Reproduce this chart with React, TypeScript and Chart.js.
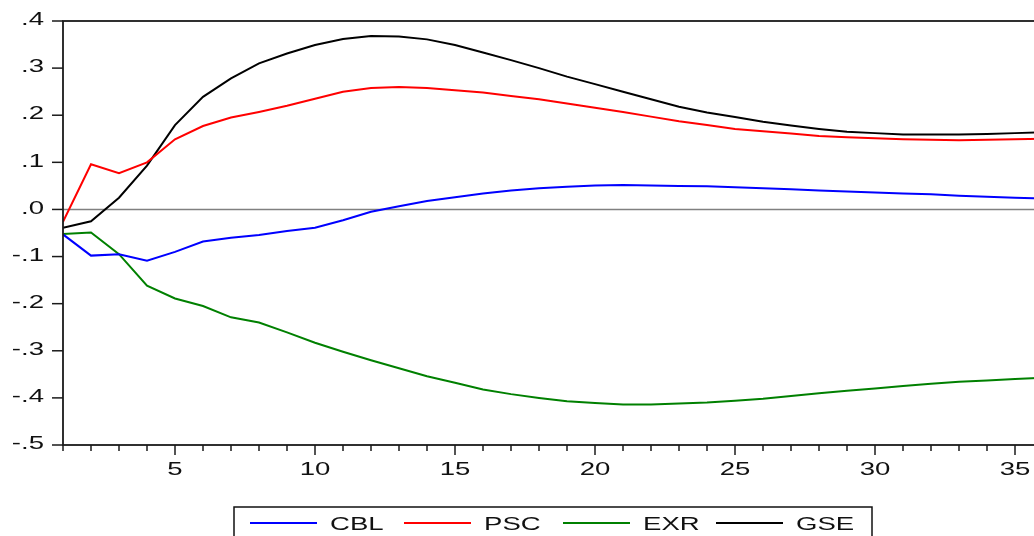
import { useEffect, useRef } from "react";
import { Chart, registerables } from "chart.js";

Chart.register(...registerables);

// Response horizon (periods)
const periods = [
  1, 2, 3, 4, 5, 6, 7, 8, 9, 10, 11, 12, 13, 14, 15, 16, 17, 18,
  19, 20, 21, 22, 23, 24, 25, 26, 27, 28, 29, 30, 31, 32, 33, 34, 35, 36,
];

const cbl = [
  -0.053, -0.098, -0.095, -0.109, -0.09, -0.068, -0.06, -0.054, -0.046, -0.039,
  -0.023, -0.005, 0.007, 0.018, 0.026, 0.034, 0.04, 0.045, 0.048, 0.051,
  0.052, 0.051, 0.05, 0.049, 0.047, 0.045, 0.043, 0.04, 0.038, 0.036,
  0.034, 0.032, 0.029, 0.027, 0.025, 0.023,
];

const psc = [
  -0.026, 0.096, 0.077, 0.1, 0.149, 0.177, 0.195, 0.207, 0.22, 0.235,
  0.25, 0.258, 0.26, 0.258, 0.253, 0.248, 0.241, 0.234, 0.225, 0.216,
  0.207, 0.197, 0.187, 0.179, 0.171, 0.166, 0.161, 0.156, 0.153, 0.151,
  0.149, 0.148, 0.147, 0.148, 0.149, 0.15,
];

const exr = [
  -0.052, -0.049, -0.095, -0.162, -0.189, -0.205, -0.229, -0.24, -0.261, -0.283,
  -0.302, -0.32, -0.337, -0.354, -0.368, -0.382, -0.392, -0.4, -0.407, -0.411,
  -0.414, -0.414, -0.412, -0.41, -0.406, -0.402, -0.396, -0.39, -0.385, -0.38,
  -0.375, -0.37, -0.366, -0.363, -0.36, -0.357,
];

const gse = [
  -0.039, -0.025, 0.025, 0.093, 0.179, 0.239, 0.278, 0.31, 0.331, 0.349,
  0.362, 0.368, 0.367, 0.361, 0.349, 0.333, 0.317, 0.3, 0.282, 0.266,
  0.25, 0.234, 0.218, 0.206, 0.196, 0.186, 0.178, 0.171, 0.165, 0.162,
  0.159, 0.159, 0.159, 0.16, 0.162, 0.164,
];

const seriesNames = ["CBL", "PSC", "EXR", "GSE"];
const seriesColors = ["#0000ff", "#ff0000", "#008000", "#000000"];

const yTickValues = [0.4, 0.3, 0.2, 0.1, 0, -0.1, -0.2, -0.3, -0.4, -0.5];
const yTickLabels = [".4", ".3", ".2", ".1", ".0", "-.1", "-.2", "-.3", "-.4", "-.5"];
const xLabelPeriods = [5, 10, 15, 20, 25, 30, 35];

// Canvas and layout geometry
const W = 1060;
const H = 536;
const FONT = '19px "Liberation Sans", Arial, sans-serif';
const SX = 1.45; // wide-set lettering
const LEGEND_BOX = { left: 234, top: 507, right: 872, bottom: 545 };
const LEGEND_ITEM_X = [250, 404, 563, 716];
const LEGEND_LINE_LEN = 67;
const LEGEND_ROW_Y = 523;

function wideText(
  ctx: CanvasRenderingContext2D,
  text: string,
  x: number,
  y: number,
  align: CanvasTextAlign,
  baseline: CanvasTextBaseline
) {
  ctx.save();
  ctx.translate(x, y);
  ctx.scale(SX, 1);
  ctx.textAlign = align;
  ctx.textBaseline = baseline;
  ctx.fillText(text, 0, 0);
  ctx.restore();
}

const framePlugin = {
  id: "eviewsFrame",
  beforeDatasetsDraw(chart: any) {
    const { ctx, chartArea: a, scales } = chart;
    const y0 = scales.y.getPixelForValue(0);
    ctx.save();
    ctx.strokeStyle = "#808080";
    ctx.lineWidth = 1.5;
    ctx.beginPath();
    ctx.moveTo(a.left, y0);
    ctx.lineTo(a.right, y0);
    ctx.stroke();
    ctx.restore();
  },
  afterDraw(chart: any) {
    const { ctx, chartArea: a, scales } = chart;
    const xs = scales.x;
    const ys = scales.y;
    ctx.save();

    // plot frame
    ctx.strokeStyle = "#1a1a1a";
    ctx.lineWidth = 1.8;
    ctx.strokeRect(a.left, a.top, a.right - a.left, a.bottom - a.top);

    // y ticks + labels
    ctx.lineWidth = 1.5;
    ctx.fillStyle = "#111";
    ctx.font = FONT;
    yTickValues.forEach((v, i) => {
      const py = ys.getPixelForValue(v);
      ctx.beginPath();
      ctx.moveTo(a.left - 11, py);
      ctx.lineTo(a.left, py);
      ctx.stroke();
      wideText(ctx, yTickLabels[i], a.left - 19, py - 1, "right", "middle");
    });

    // x ticks (every period, longer at labelled ones)
    periods.forEach((p) => {
      const px = xs.getPixelForValue(p);
      const len = p % 5 === 0 ? 10 : 6;
      ctx.beginPath();
      ctx.moveTo(px, a.bottom);
      ctx.lineTo(px, a.bottom + len);
      ctx.stroke();
    });
    xLabelPeriods.forEach((p) => {
      wideText(ctx, String(p), xs.getPixelForValue(p), a.bottom + 30, "center", "alphabetic");
    });

    // legend
    ctx.lineWidth = 1.5;
    ctx.strokeStyle = "#111";
    ctx.strokeRect(
      LEGEND_BOX.left,
      LEGEND_BOX.top,
      LEGEND_BOX.right - LEGEND_BOX.left,
      LEGEND_BOX.bottom - LEGEND_BOX.top
    );
    chart.data.datasets.forEach((ds: any, i: number) => {
      const lx = LEGEND_ITEM_X[i];
      ctx.strokeStyle = ds.borderColor;
      ctx.lineWidth = 2;
      ctx.beginPath();
      ctx.moveTo(lx, LEGEND_ROW_Y);
      ctx.lineTo(lx + LEGEND_LINE_LEN, LEGEND_ROW_Y);
      ctx.stroke();
      ctx.fillStyle = "#111";
      wideText(ctx, ds.label, lx + LEGEND_LINE_LEN + 13, LEGEND_ROW_Y + 6.5, "left", "alphabetic");
    });

    ctx.restore();
  },
};

export default function App() {
  const canvasRef = useRef<HTMLCanvasElement | null>(null);

  useEffect(() => {
    const canvas = canvasRef.current;
    if (!canvas) return;
    const series = [cbl, psc, exr, gse];
    const chart = new Chart(canvas, {
      type: "line",
      data: {
        datasets: series.map((values, i) => ({
          label: seriesNames[i],
          data: periods.map((p, k) => ({ x: p, y: values[k] })),
          borderColor: seriesColors[i],
          backgroundColor: seriesColors[i],
          borderWidth: 2,
          pointRadius: 0,
          tension: 0,
          fill: false,
        })),
      },
      options: {
        responsive: false,
        animation: false,
        events: [],
        layout: { padding: { left: 63, top: 21, right: W - 1043, bottom: H - 445 } },
        plugins: { legend: { display: false }, tooltip: { enabled: false } },
        scales: {
          x: { type: "linear", min: 1, max: 36, display: false },
          y: { type: "linear", min: -0.5, max: 0.4, display: false },
        },
      },
      plugins: [framePlugin],
    });
    return () => chart.destroy();
  }, []);

  return (
    <div
      style={{
        position: "fixed",
        left: 0,
        top: 0,
        width: 1034,
        height: 536,
        overflow: "hidden",
        background: "#fff",
      }}
    >
      <canvas ref={canvasRef} width={W} height={H} style={{ display: "block" }} />
    </div>
  );
}
